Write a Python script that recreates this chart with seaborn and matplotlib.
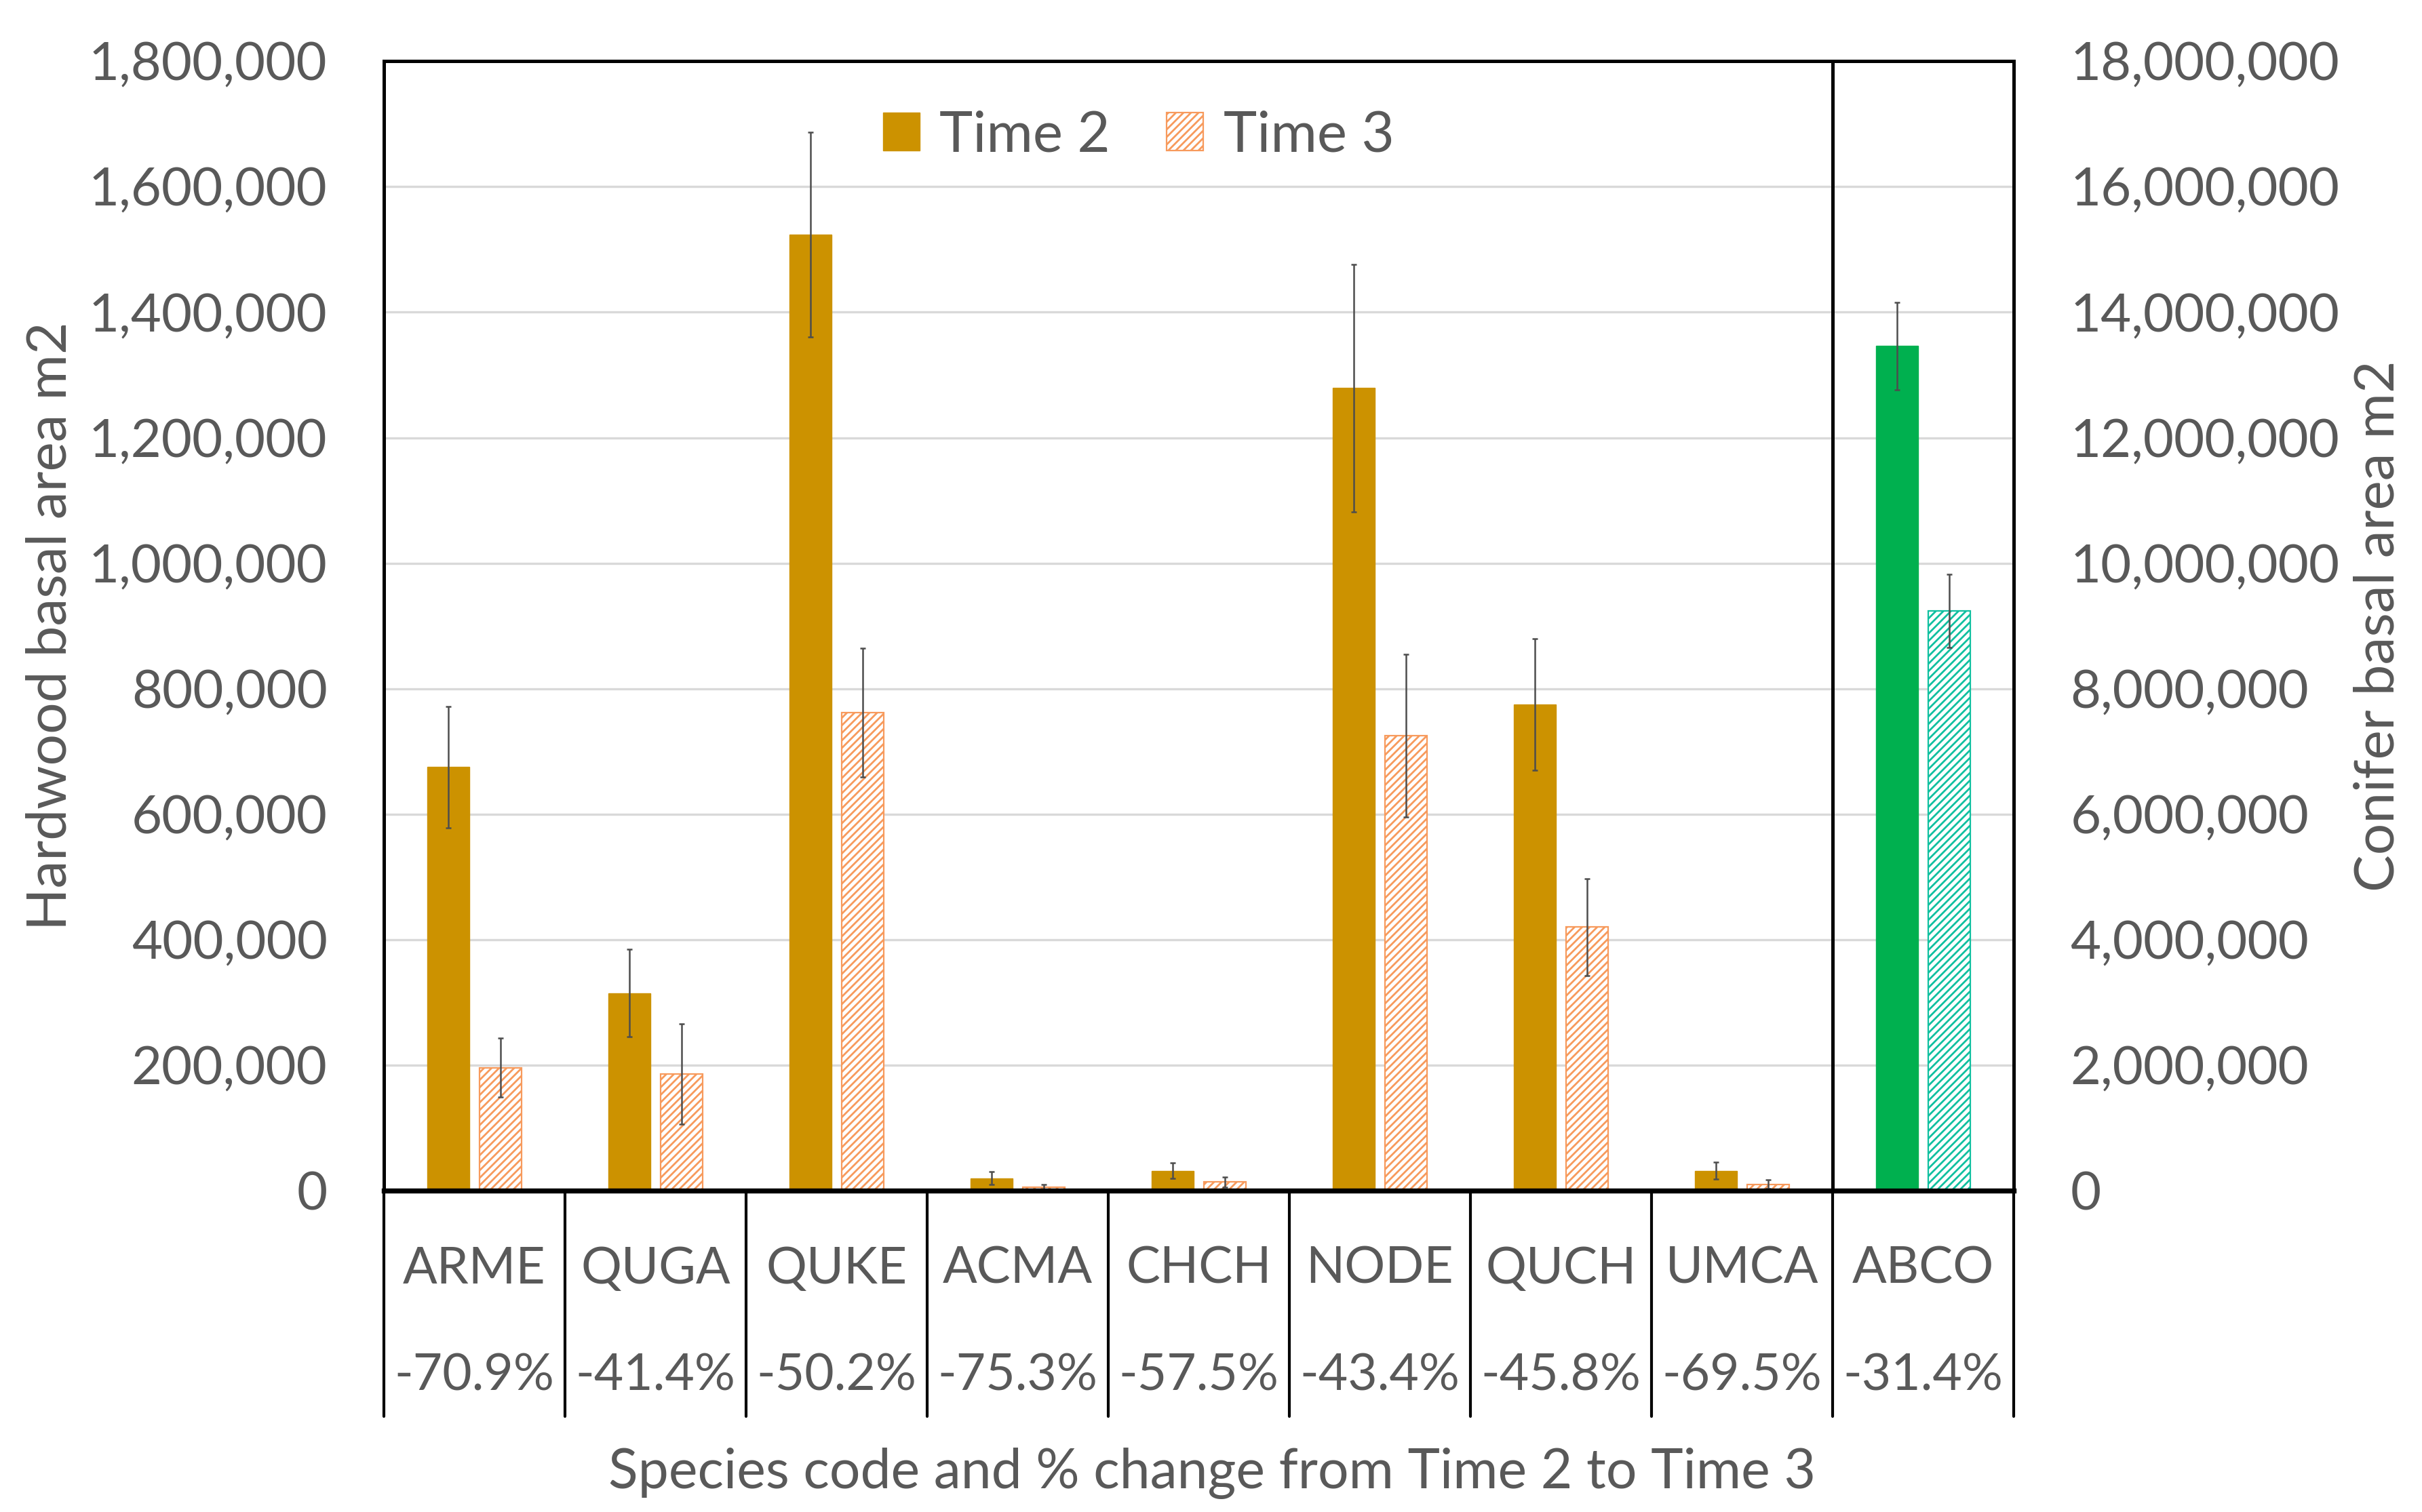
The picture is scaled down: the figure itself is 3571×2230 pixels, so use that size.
import matplotlib
matplotlib.use("Agg")
import matplotlib.pyplot as plt
import matplotlib.transforms as mtransforms
from matplotlib.container import BarContainer
from matplotlib.ticker import FuncFormatter
import numpy as np
import pandas as pd
import seaborn as sns

# values
species = ["ARME", "QUGA", "QUKE", "ACMA", "CHCH", "NODE", "QUCH", "UMCA", "ABCO"]
pct_change = ["-70.9%", "-41.4%", "-50.2%", "-75.3%", "-57.5%", "-43.4%", "-45.8%", "-69.5%", "-31.4%"]
times = ["Time 2", "Time 3"]

hw_species = species[:8]
hw_time2 = [675000, 315000, 1524000, 20000, 32000, 1279000, 775000, 32000]
hw_time3 = [196000, 186000, 762000, 5000, 14000, 725000, 420000, 10000]
hw_err2 = [97000, 70000, 163000, 10000, 12000, 197000, 105000, 13000]
hw_err3 = [47000, 80000, 103000, 5000, 8000, 130000, 77000, 7000]

con_species = ["ABCO"]
con_time2 = [13460000]
con_time3 = [9240000]
con_err2 = [700000]
con_err3 = [580000]

gold = "#CC9200"
orange = "#F79A5C"
green = "#00B04F"
teal = "#10C0A0"
txt = "#595959"

sns.set_theme(style="white")
plt.rcParams["font.family"] = ["Lato", "DejaVu Sans"]
plt.rcParams["hatch.linewidth"] = 1.0

hw = pd.DataFrame({"species": hw_species * 2,
                   "time": ["Time 2"] * 8 + ["Time 3"] * 8,
                   "area": hw_time2 + hw_time3})
con = pd.DataFrame({"species": con_species * 2,
                    "time": times,
                    "area": con_time2 + con_time3})
hw_err = {"Time 2": dict(zip(hw_species, hw_err2)), "Time 3": dict(zip(hw_species, hw_err3))}
con_err = {"Time 2": dict(zip(con_species, con_err2)), "Time 3": dict(zip(con_species, con_err3))}

fig = plt.figure(figsize=(17.855, 11.15), dpi=200)
ax = fig.add_axes([0.1585, 0.2125, 0.6729, 0.747])
ax2 = ax.twinx()

sns.barplot(data=hw, x="species", y="area", hue="time", order=species, hue_order=times,
            palette={"Time 2": gold, "Time 3": "white"}, width=0.58, gap=0.2,
            saturation=1, errorbar=None, legend=False, ax=ax)
sns.barplot(data=con, x="species", y="area", hue="time", order=species, hue_order=times,
            palette={"Time 2": green, "Time 3": "white"}, width=0.58, gap=0.2,
            saturation=1, errorbar=None, legend=False, ax=ax2)

hw_bars = [c for c in ax.containers if isinstance(c, BarContainer)]
con_bars = [c for c in ax2.containers if isinstance(c, BarContainer)]


def style_and_err(a, bars, hatch_col, fill_col, errs):
    for k, cont in enumerate(bars):
        t = times[k]
        for p in cont:
            xc = p.get_x() + p.get_width() / 2
            sp = species[int(round(xc))]
            if t == "Time 3":
                p.set_facecolor("white")
                p.set_hatch("//////")
                p.set_edgecolor(hatch_col)
                p.set_linewidth(0.8)
            else:
                p.set_edgecolor(fill_col)
                p.set_linewidth(0.5)
            a.errorbar(xc, p.get_height(), yerr=errs[t][sp], color="#4D4D4D",
                       elinewidth=0.9, capsize=1.5, capthick=0.9, zorder=5)


style_and_err(ax, hw_bars, orange, gold, hw_err)
style_and_err(ax2, con_bars, teal, green, con_err)

ax.set_xlim(-0.5, 8.5)
ax.set_ylim(0, 1800000)
ax2.set_ylim(0, 18000000)
ax.set_yticks(np.arange(0, 1800001, 200000))
ax2.set_yticks(np.arange(0, 18000001, 2000000))
fmt = FuncFormatter(lambda v, pos: f"{v:,.0f}")
ax.yaxis.set_major_formatter(fmt)
ax2.yaxis.set_major_formatter(fmt)
ax.set_xticks([])
ax.set_xlabel("")
ax.set_ylabel("")
ax2.set_ylabel("")
ax.yaxis.grid(True, color="#D9D9D9", linewidth=1.2)
ax.set_axisbelow(True)
for a in (ax, ax2):
    a.tick_params(axis="y", length=0, labelsize=28, labelcolor=txt, pad=30)
    for s in a.spines.values():
        s.set_color("black")
        s.set_linewidth(1.8)
    a.spines["bottom"].set_linewidth(2.6)

# category boxes below the axis
tr = mtransforms.blended_transform_factory(ax.transData, ax.transAxes)
for b in np.arange(-0.5, 9.0, 1.0):
    ax.plot([b, b], [0, -0.2], transform=tr, color="black", lw=1.5, clip_on=False)
ax.plot([7.5, 7.5], [0, 1], transform=tr, color="black", lw=1.8, clip_on=False)
for i, s in enumerate(species):
    ax.text(i, -0.069, s, transform=tr, ha="center", va="center", fontsize=27, color=txt)
    ax.text(i, -0.164, pct_change[i], transform=tr, ha="center", va="center", fontsize=27, color=txt)
ax.text(0.508, -0.25, "Species code and % change from Time 2 to Time 3", transform=ax.transAxes,
        ha="center", va="center", fontsize=29, color=txt)

fig.text(0.021, 0.586, "Hardwood basal area m2", rotation=90, ha="center", va="center",
         fontsize=29.5, color=txt)
fig.text(0.982, 0.586, "Conifer basal area m2", rotation=90, ha="center", va="center",
         fontsize=29.5, color=txt)

leg = ax.legend(handles=[hw_bars[0], hw_bars[1]], labels=times, loc="center",
                bbox_to_anchor=(0.463, 0.934), ncol=2, frameon=False, fontsize=30,
                handlelength=0.65, handleheight=0.65, handletextpad=0.35, columnspacing=1.0)
for t in leg.get_texts():
    t.set_color(txt)

fig.savefig("out.png", dpi=200)
